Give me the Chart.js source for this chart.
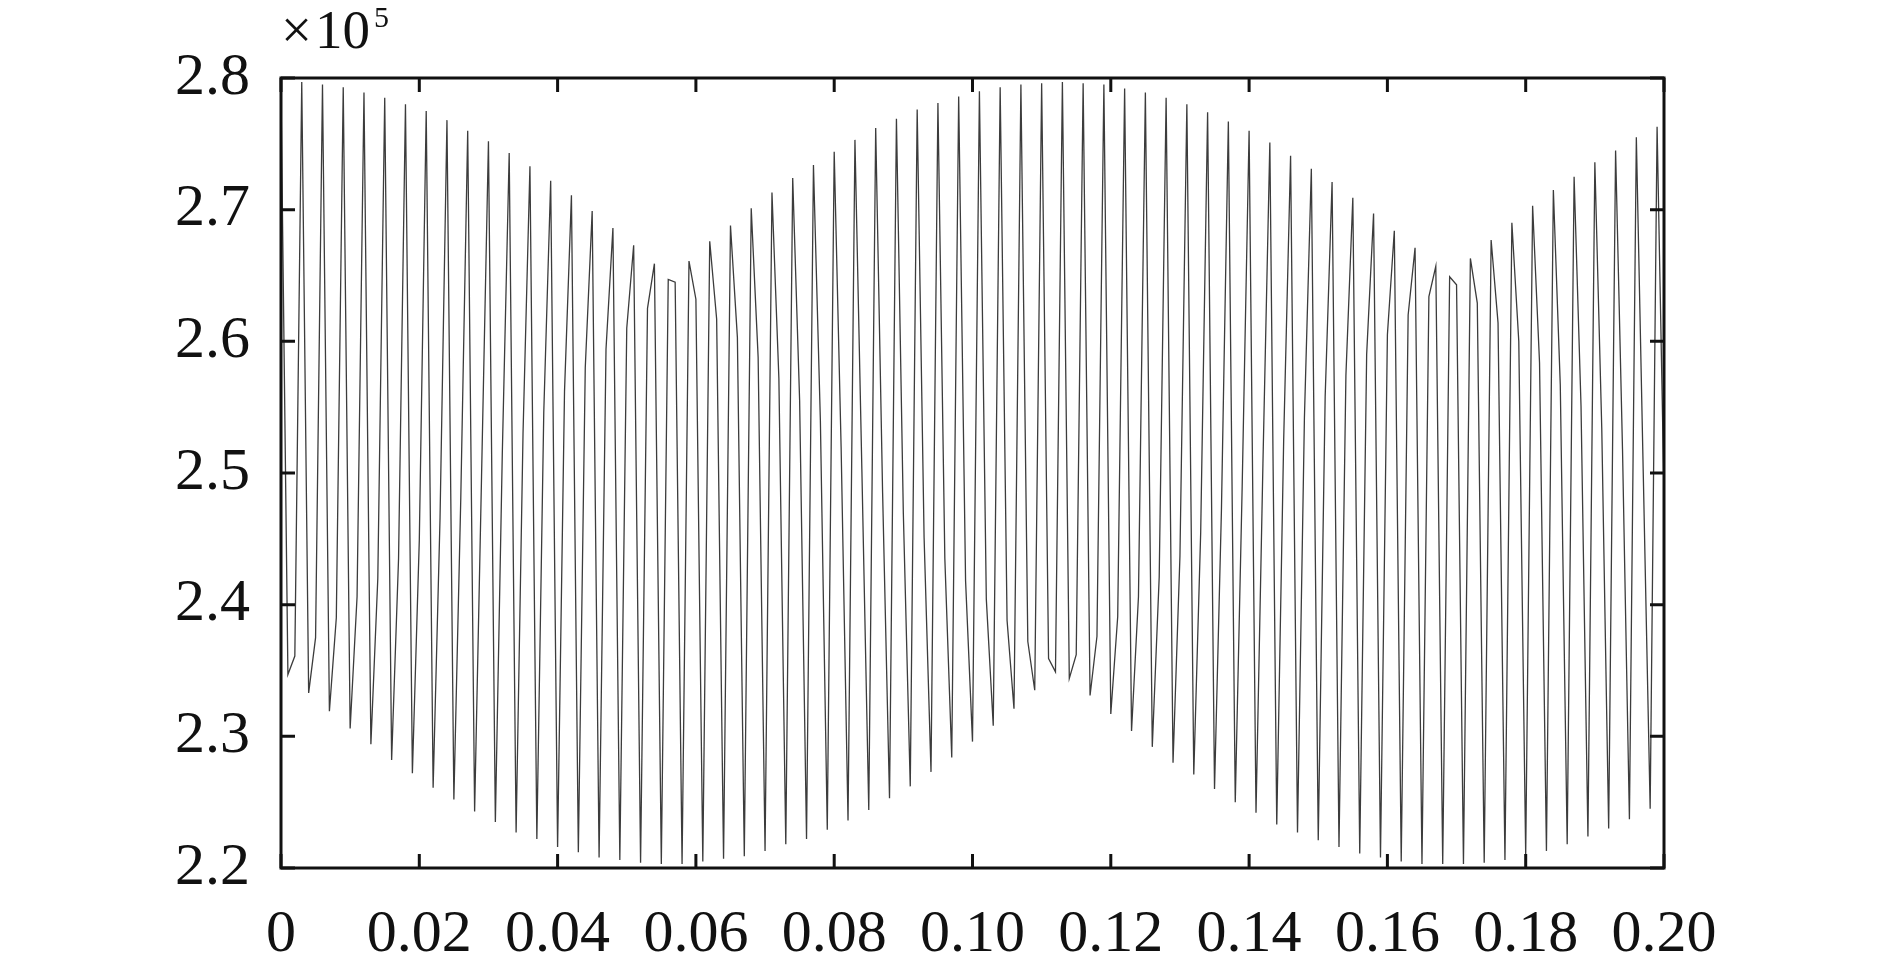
<!DOCTYPE html>
<html>
  <head>
    <meta charset="utf-8"/>
    <script src="https://cdn.jsdelivr.net/npm/chart.js@4/dist/chart.umd.min.js"></script>
    <style>
      body { margin: 0; background: #fff; }
      #wrap { position: relative; width: 1890px; height: 957px; }
      #scale-note { position: absolute; left: 281px; top: 2px; font: 55px "Liberation Serif", serif; line-height: 55px; color: #111; white-space: nowrap; }
      #scale-note .ten { margin-left: 3px; }
      #scale-note sup { font-size: 30px; vertical-align: baseline; position: relative; top: -21px; margin-left: 4px; }
    </style>
  </head>
  <body>
    <div id="wrap">
      <canvas id="chart-area"></canvas>
      <div id="scale-note">&times;<span class="ten">10</span><sup>5</sup></div>
    </div>

    <script>
      // sampled signal, 1 ms step, values in units of 10^5
      var dt = 0.001;
      var signal = [
        2.790, 2.347, 2.361, 2.797, 2.333, 2.375, 2.795, 2.319, 2.390, 2.793,
        2.306, 2.406, 2.789, 2.294, 2.420, 2.785, 2.282, 2.435, 2.780, 2.272,
        2.449, 2.775, 2.261, 2.466, 2.768, 2.252, 2.481, 2.760, 2.243, 2.497,
        2.752, 2.235, 2.514, 2.743, 2.227, 2.530, 2.733, 2.222, 2.546, 2.722,
        2.216, 2.562, 2.711, 2.212, 2.580, 2.699, 2.208, 2.594, 2.686, 2.206,
        2.610, 2.673, 2.204, 2.625, 2.659, 2.203, 2.647, 2.645, 2.203, 2.661,
        2.632, 2.205, 2.676, 2.617, 2.207, 2.688, 2.603, 2.209, 2.701, 2.588,
        2.213, 2.713, 2.572, 2.218, 2.724, 2.555, 2.222, 2.734, 2.540, 2.229,
        2.744, 2.520, 2.236, 2.753, 2.503, 2.244, 2.762, 2.485, 2.253, 2.769,
        2.469, 2.262, 2.776, 2.451, 2.273, 2.781, 2.435, 2.284, 2.786, 2.418,
        2.296, 2.790, 2.404, 2.308, 2.793, 2.388, 2.321, 2.795, 2.372, 2.335,
        2.796, 2.359, 2.349, 2.797, 2.344, 2.362, 2.796, 2.331, 2.376, 2.795,
        2.317, 2.391, 2.792, 2.304, 2.406, 2.789, 2.292, 2.421, 2.785, 2.280,
        2.437, 2.780, 2.271, 2.455, 2.774, 2.260, 2.472, 2.767, 2.250, 2.490,
        2.760, 2.242, 2.507, 2.751, 2.233, 2.525, 2.741, 2.227, 2.542, 2.731,
        2.221, 2.558, 2.721, 2.216, 2.574, 2.709, 2.211, 2.590, 2.697, 2.208,
        2.605, 2.684, 2.205, 2.620, 2.671, 2.203, 2.634, 2.657, 2.203, 2.649,
        2.643, 2.203, 2.663, 2.629, 2.204, 2.677, 2.614, 2.206, 2.690, 2.600,
        2.210, 2.703, 2.584, 2.213, 2.715, 2.567, 2.218, 2.725, 2.551, 2.224,
        2.736, 2.534, 2.230, 2.745, 2.518, 2.237, 2.755, 2.500, 2.245, 2.763,
        2.484
      ];

      var xTicks = [0, 0.02, 0.04, 0.06, 0.08, 0.10, 0.12, 0.14, 0.16, 0.18, 0.20];
      var xTickLabels = ['0', '0.02', '0.04', '0.06', '0.08', '0.10', '0.12', '0.14', '0.16', '0.18', '0.20'];
      var yTicks = [2.2, 2.3, 2.4, 2.5, 2.6, 2.7, 2.8];
      var yTickLabels = ['2.2', '2.3', '2.4', '2.5', '2.6', '2.7', '2.8'];

      var points = signal.map(function(v, i) { return {x: i * dt, y: v}; });

      // box with inward ticks on all four sides
      var frame = {
        id: 'frame',
        afterDatasetsDraw: function(chart) {
          var ctx = chart.ctx, a = chart.chartArea;
          var sx = chart.scales.x, sy = chart.scales.y;
          var len = 14;
          ctx.save();
          ctx.strokeStyle = '#111';
          ctx.lineWidth = 3;
          ctx.beginPath();
          sx.ticks.forEach(function(t) {
            var px = sx.getPixelForValue(t.value);
            ctx.moveTo(px, a.bottom); ctx.lineTo(px, a.bottom - len);
            ctx.moveTo(px, a.top); ctx.lineTo(px, a.top + len);
          });
          sy.ticks.forEach(function(t) {
            var py = sy.getPixelForValue(t.value);
            ctx.moveTo(a.left, py); ctx.lineTo(a.left + len, py);
            ctx.moveTo(a.right, py); ctx.lineTo(a.right - len, py);
          });
          ctx.stroke();
          ctx.strokeRect(a.left, a.top, a.right - a.left, a.bottom - a.top);
          ctx.restore();
        }
      };

      Chart.defaults.font.family = '"Liberation Serif", "Times New Roman", serif';
      Chart.defaults.color = '#111';

      var ctx = document.getElementById('chart-area').getContext('2d');
      var chart = new Chart(ctx, {
        type: 'line',
        data: {
          datasets: [{
            data: points,
            borderColor: '#3c3c3c',
            borderWidth: 1.3,
            pointRadius: 0,
            tension: 0,
            fill: false
          }]
        },
        options: {
          responsive: true,
          maintainAspectRatio: false,
          animation: false,
          layout: { padding: { left: 0, top: 78, right: 226, bottom: 0 } },
          plugins: { legend: { display: false }, tooltip: { enabled: false } },
          scales: {
            x: {
              type: 'linear',
              min: 0,
              max: 0.2,
              afterBuildTicks: function(s) { s.ticks = xTicks.map(function(v) { return {value: v}; }); },
              afterFit: function(s) { s.height = 89; },
              grid: { display: false, drawTicks: false },
              border: { display: false },
              ticks: {
                autoSkip: false,
                maxRotation: 0,
                padding: 31,
                font: { size: 60 },
                callback: function(v, i) { return xTickLabels[i]; }
              }
            },
            y: {
              min: 2.2,
              max: 2.8,
              afterBuildTicks: function(s) { s.ticks = yTicks.map(function(v) { return {value: v}; }); },
              afterFit: function(s) { s.width = 281; },
              grid: { display: false, drawTicks: false },
              border: { display: false },
              ticks: {
                padding: 31,
                font: { size: 60 },
                callback: function(v, i) { return yTickLabels[i]; }
              }
            }
          }
        },
        plugins: [frame]
      });
    </script>
  </body>
</html>
